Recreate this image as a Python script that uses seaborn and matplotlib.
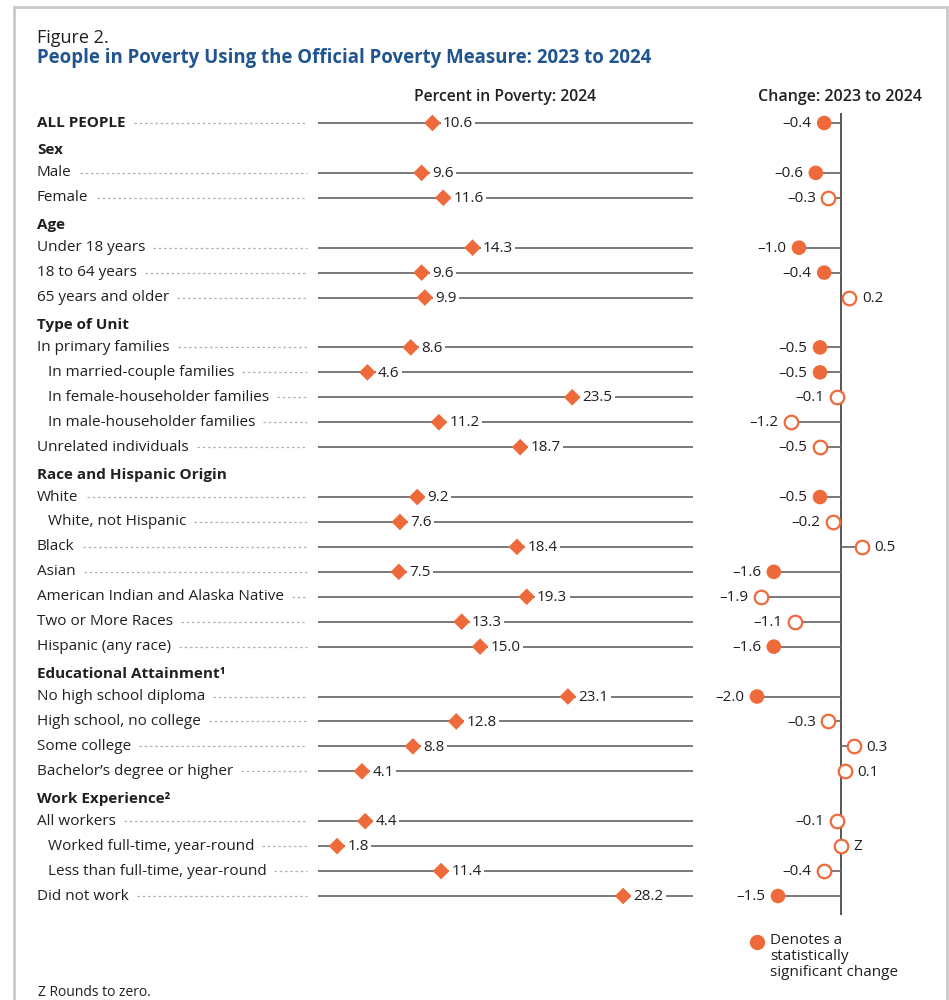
import matplotlib
matplotlib.use("Agg")
import matplotlib.pyplot as plt
import matplotlib.patches as mpatches
import matplotlib.transforms as mtransforms
import seaborn as sns
import numpy as np
import pandas as pd

# rows in display order; kind: top / head / item / sub
labels = ["ALL PEOPLE", "Sex", "Male", "Female", "Age", "Under 18 years", "18 to 64 years",
          "65 years and older", "Type of Unit", "In primary families", "In married-couple families",
          "In female-householder families", "In male-householder families", "Unrelated individuals",
          "Race and Hispanic Origin", "White", "White, not Hispanic", "Black", "Asian",
          "American Indian and Alaska Native", "Two or More Races", "Hispanic (any race)",
          "Educational Attainment\u00b9", "No high school diploma", "High school, no college",
          "Some college", "Bachelor\u2019s degree or higher", "Work Experience\u00b2", "All workers",
          "Worked full-time, year-round", "Less than full-time, year-round", "Did not work"]
kinds = ["top", "head", "item", "item", "head", "item", "item", "item", "head", "item", "sub",
         "sub", "sub", "item", "head", "item", "sub", "item", "item", "item", "item", "item",
         "head", "item", "item", "item", "item", "head", "item", "sub", "sub", "item"]
pct_2024 = [10.6, None, 9.6, 11.6, None, 14.3, 9.6, 9.9, None, 8.6, 4.6, 23.5, 11.2, 18.7,
            None, 9.2, 7.6, 18.4, 7.5, 19.3, 13.3, 15.0, None, 23.1, 12.8, 8.8, 4.1,
            None, 4.4, 1.8, 11.4, 28.2]
change = [-0.4, None, -0.6, -0.3, None, -1.0, -0.4, 0.2, None, -0.5, -0.5, -0.1, -1.2, -0.5,
          None, -0.5, -0.2, 0.5, -1.6, -1.9, -1.1, -1.6, None, -2.0, -0.3, 0.3, 0.1,
          None, -0.1, 0.0, -0.4, -1.5]
significant = [True, None, True, False, None, True, True, False, None, True, True, False, False,
               False, None, True, False, False, True, False, False, True, None, True, False,
               False, False, None, False, False, False, True]

ORANGE = "#ef6a3a"
BLUE = "#205591"
GRAY = "#6e6e6e"
TEXT = "#231f20"

df = pd.DataFrame({"label": labels, "kind": kinds, "pct": pct_2024,
                   "change": change, "sig": significant})
df["slot"] = np.arange(len(df))
data = df[df["kind"] != "head"].copy()
data["pct"] = data["pct"].astype(float)
data["change"] = data["change"].astype(float)
data["sig"] = data["sig"].astype(bool)

sns.set_theme(style="white")
plt.rcParams["font.family"] = ["Open Sans", "DejaVu Sans"]
plt.rcParams["text.color"] = TEXT

W, H = 949, 1000
fig = plt.figure(figsize=(9.49, 10), dpi=100)

def fx(px):
    return px / W

def fy(py):
    return 1 - py / H

# outer frame
fig.patches.append(mpatches.Rectangle((fx(14), fy(1040)), fx(933), (1040 - 7) / H,
                                      transform=fig.transFigure, fill=False,
                                      edgecolor="#c9c9c9", lw=2))

top_px, bot_px = 113, 915
step = (896 - 123) / 31
ylim = (31 + (bot_px - 896) / step, -(123 - top_px) / step)

ax1 = fig.add_axes([fx(317), fy(bot_px), fx(693 - 317), (bot_px - top_px) / H])
ax2 = fig.add_axes([fx(700), fy(bot_px), fx(920 - 700), (bot_px - top_px) / H])
for ax in (ax1, ax2):
    ax.set_ylim(*ylim)
    ax.axis("off")
ax1.set_xlim(-0.05, (693 - 316.4) / 10.87)
ax2.set_xlim((700 - 841) / 42, (920 - 841) / 42)

# left panel: baseline rules + diamonds
ax1.hlines(data["slot"], 0, ax1.get_xlim()[1], color=GRAY, lw=1.3, zorder=1)
sns.scatterplot(data=data, x="pct", y="slot", marker="D", s=72, color=ORANGE,
                edgecolor="none", ax=ax1, zorder=3, legend=False)
for _, r in data.iterrows():
    ax1.annotate(f"{r['pct']:.1f}", (r["pct"], r["slot"]), xytext=(7.5, -0.5),
                 textcoords="offset points", ha="left", va="center", fontsize=11,
                 color=TEXT, zorder=4,
                 bbox=dict(boxstyle="square,pad=0.15", fc="white", ec="none"))

# right panel: change from zero
ax2.axvline(0, color="#3a3a3a", lw=1.2, zorder=1)
ax2.hlines(data["slot"], data["change"], 0, color=GRAY, lw=1.3, zorder=1)
sig = data[data["sig"]]
nsig = data[~data["sig"]]
sns.scatterplot(data=sig, x="change", y="slot", s=110, color=ORANGE, edgecolor="none",
                ax=ax2, zorder=3, legend=False)
sns.scatterplot(data=nsig, x="change", y="slot", s=95, color="white", edgecolor=ORANGE,
                linewidth=1.6, ax=ax2, zorder=3, legend=False)
for _, r in data.iterrows():
    v = r["change"]
    if v == 0:
        txt, off, ha = "Z", 9, "left"
    elif v > 0:
        txt, off, ha = f"{v:.1f}", 9, "left"
    else:
        txt, off, ha = f"\u2013{abs(v):.1f}", -9, "right"
    ax2.annotate(txt, (v, r["slot"]), xytext=(off, -0.5), textcoords="offset points",
                 ha=ha, va="center", fontsize=11, color=TEXT)

# row labels with dotted leaders
trans = mtransforms.blended_transform_factory(fig.transFigure, ax1.transData)
renderer = fig.canvas.get_renderer()
for _, r in df.iterrows():
    x0 = 47.5 if r["kind"] == "sub" else 37
    bold = r["kind"] in ("top", "head")
    yy = r["slot"] + (0.1 if r["kind"] == "head" else 0)
    t = fig.text(fx(x0), yy, r["label"], transform=trans, ha="left", va="center",
                 fontsize=11, fontweight="bold" if bold else "normal", color=TEXT)
    if r["kind"] == "head":
        continue
    bb = t.get_window_extent(renderer=renderer)
    line = plt.Line2D([(bb.x1 + 8) / W, 307 / W], [r["slot"], r["slot"]], transform=trans,
                      color="#b0b0b0", lw=0.9, linestyle=(0, (2, 2.2)))
    fig.add_artist(line)

# titles and headers
fig.text(fx(37), fy(38), "Figure 2.", fontsize=13, ha="left", va="center", color=TEXT)
fig.text(fx(37), fy(58), "People in Poverty Using the Official Poverty Measure: 2023 to 2024",
         fontsize=13.4, fontweight="bold", ha="left", va="center", color=BLUE)
fig.text(fx(505), fy(97), "Percent in Poverty: 2024", fontsize=11.3, fontweight="semibold",
         ha="center", va="center", color=TEXT)
fig.text(fx(840), fy(97), "Change: 2023 to 2024", fontsize=11.5, fontweight="semibold",
         ha="center", va="center", color=TEXT)

# legend
fig.add_artist(plt.Line2D([fx(757)], [fy(942)], marker="o", ms=10, color=ORANGE, lw=0,
                          transform=fig.transFigure))
fig.text(fx(770), fy(933), "Denotes a\nstatistically\nsignificant change", fontsize=11,
         ha="left", va="top", linespacing=1.1, color=TEXT)
fig.text(fx(38), fy(993), "Z Rounds to zero.", fontsize=10, ha="left", va="center",
         color=TEXT)

fig.savefig("out.png", dpi=100)
